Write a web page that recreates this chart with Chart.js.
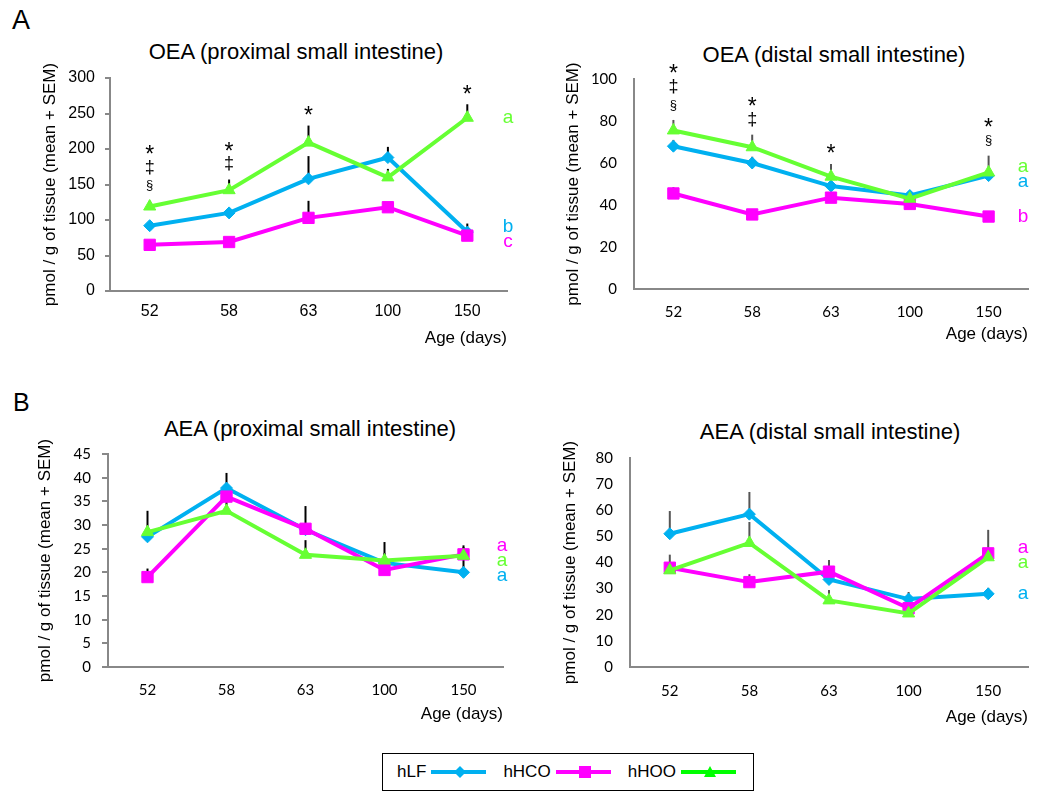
<!DOCTYPE html>
<html>
<head>
<meta charset="utf-8">
<script src="https://cdn.jsdelivr.net/npm/chart.js@4.4.0/dist/chart.umd.min.js"></script>
<style>
body{margin:0;background:#fff;}
#page{position:relative;width:1037px;height:793px;overflow:hidden;font-family:"Liberation Sans",Arial,sans-serif;color:#000;}
.panel{position:absolute;}
.ttl{position:absolute;width:400px;text-align:center;font-size:22px;line-height:24px;white-space:nowrap;}
.big{position:absolute;font-size:27px;line-height:27px;}
#legend{position:absolute;left:382px;top:753px;width:372px;height:38px;border:1.5px solid #000;display:flex;align-items:center;padding-left:14px;box-sizing:border-box;font-family:"Liberation Sans",sans-serif;font-size:17px;}
#legend span{margin-right:5px;}
#legend svg{margin-right:17px;}
</style>
</head>
<body>
<div id="page">
  <div class="big" style="left:12px;top:7px;">A</div>
  <div class="big" style="left:13px;top:389px;font-size:25px;">B</div>
  <div class="ttl" style="left:96px;top:40px;">OEA (proximal small intestine)</div>
  <div class="ttl" style="left:634px;top:43px;">OEA (distal small intestine)</div>
  <div class="ttl" style="left:110px;top:417px;">AEA (proximal small intestine)</div>
  <div class="ttl" style="left:630px;top:420px;">AEA (distal small intestine)</div>
  <div class="panel" style="left:0;top:30px;"><canvas id="oeaProx" width="520" height="320"></canvas></div>
  <div class="panel" style="left:520px;top:30px;"><canvas id="oeaDist" width="517" height="320"></canvas></div>
  <div class="panel" style="left:0;top:410px;"><canvas id="aeaProx" width="520" height="320"></canvas></div>
  <div class="panel" style="left:520px;top:410px;"><canvas id="aeaDist" width="517" height="320"></canvas></div>
  <div id="legend"></div>
</div>
<script>
const ages = ['52', '58', '63', '100', '150'];
const groups = ['hLF', 'hHCO', 'hHOO'];
const colors = ['#00B0F0', '#FF00FF', '#66FF33'];

// OEA proximal small intestine
const oeaProxLF = [92, 110, 158, 188, 83];
const oeaProxHCO = [65, 69, 103, 118, 78];
const oeaProxHOO = [119, 142, 209, 160, 244];
const oeaProxLFsem = [4, 5, 32, 15, 12];
const oeaProxHCOsem = [4, 4, 24, 5, 5];
const oeaProxHOOsem = [8, 15, 24, 12, 19];
const oeaProxSig = ['*‡§', '*‡', '*', '', '*'];
const oeaProxLetters = ['b', 'c', 'a'];

// OEA distal small intestine
const oeaDistLF = [68, 60, 49, 44.5, 54];
const oeaDistHCO = [45.5, 35.5, 43.5, 40.5, 34.5];
const oeaDistHOO = [75.5, 67.5, 53.5, 43, 55.5];
const oeaDistLFsem = [3, 3, 3, 2, 3];
const oeaDistHCOsem = [3, 2.5, 2, 2, 2];
const oeaDistHOOsem = [5, 6, 6, 2, 8];
const oeaDistSig = ['*‡§', '*‡', '*', '', '*§'];
const oeaDistLetters = ['a', 'b', 'a'];

// AEA proximal small intestine
const aeaProxLF = [27.5, 37.8, 29, 22, 20];
const aeaProxHCO = [19, 36, 29.2, 20.5, 23.8];
const aeaProxHOO = [28.5, 33, 23.7, 22.5, 23.5];
const aeaProxLFsem = [1, 3.2, 1, 1, 5.7];
const aeaProxHCOsem = [1.8, 2, 4.8, 5.9, 1.5];
const aeaProxHOOsem = [4.5, 2.5, 3.1, 1.5, 1.5];
const aeaProxSig = ['', '', '', '', ''];
const aeaProxLetters = ['a', 'a', 'a'];

// AEA distal small intestine
const aeaDistLF = [51, 58.5, 33.5, 26, 28];
const aeaDistHCO = [38, 32.5, 36.5, 22.5, 43.5];
const aeaDistHOO = [37, 47.5, 25.5, 20.5, 42];
const aeaDistLFsem = [8.7, 8.5, 2, 2.7, 2.3];
const aeaDistHCOsem = [5, 3, 4.5, 2, 9];
const aeaDistHOOsem = [2, 8, 4, 1.5, 2];
const aeaDistSig = ['', '', '', '', ''];
const aeaDistLetters = ['a', 'a', 'a'];

const pointStyles = ['rectRot', 'rect', 'triangle'];
const pointSizes = [6, 8, 7];

// error bars (mean + SEM), significance marks and group letters
const extras = {
  id: 'extras',
  beforeDatasetsDraw(chart, args, o) {
    const {ctx, scales: {x, y}} = chart;
    ctx.save();
    ctx.strokeStyle = o.barColor;
    ctx.lineWidth = 2;
    chart.data.datasets.forEach(ds => {
      ds.sem.forEach((s, i) => {
        const px = x.getPixelForValue(i);
        ctx.beginPath();
        ctx.moveTo(px, y.getPixelForValue(ds.data[i]));
        ctx.lineTo(px, y.getPixelForValue(ds.data[i] + s));
        ctx.stroke();
      });
    });
    ctx.restore();
  },
  afterDraw(chart, args, o) {
    const {ctx, scales: {x, y}, chartArea} = chart;
    const dsets = chart.data.datasets;
    ctx.save();
    ctx.fillStyle = '#000';
    ctx.textAlign = 'center';
    ctx.textBaseline = 'middle';
    o.sig.forEach((str, i) => {
      if (!str) return;
      let top = Math.min(...dsets.map(ds => y.getPixelForValue(ds.data[i] + ds.sem[i])));
      const chars = [...str].reverse();
      chars.forEach((c, k) => {
        let size = 18, shift = 0;
        if (c === '§') size = 13;
        if (c === '*') { size = 23; shift = 6; }
        ctx.font = size + 'px "Liberation Sans", Arial';
        ctx.fillText(c, x.getPixelForValue(i), top - 15 - k * 18 + shift);
      });
    });
    // letters next to last points, spread apart when they collide
    const gap = 15;
    const items = dsets.map((ds, i) => ({t: o.letters[i], c: ds.borderColor, y: y.getPixelForValue(ds.data[ds.data.length - 1])}));
    items.sort((a, b) => a.y - b.y);
    let cl = items.map(it => ({items: [it]}));
    const centre = c => c.items.reduce((s, it) => s + it.y, 0) / c.items.length;
    let merged = true;
    while (merged) {
      merged = false;
      for (let k = 0; k < cl.length - 1; k++) {
        const a = cl[k], b = cl[k + 1];
        const aBot = centre(a) + (a.items.length - 1) * gap / 2;
        const bTop = centre(b) - (b.items.length - 1) * gap / 2;
        if (bTop - aBot < gap) {
          cl.splice(k, 2, {items: a.items.concat(b.items)});
          merged = true;
          break;
        }
      }
    }
    ctx.font = '19px "Liberation Sans", Arial';
    cl.forEach(c => {
      const m = centre(c);
      c.items.forEach((it, j) => {
        ctx.fillStyle = it.c;
        ctx.fillText(it.t, chartArea.right + o.letterDx, m + (j - (c.items.length - 1) / 2) * gap);
      });
    });
    ctx.restore();
  }
};

function makePanel(id, series, sems, sig, letters, yMax, yStep, lay) {
  const datasets = series.map((d, i) => ({
    label: groups[i],
    data: d,
    sem: sems[i],
    borderColor: colors[i],
    backgroundColor: colors[i],
    borderWidth: 4,
    pointStyle: pointStyles[i],
    pointRadius: pointSizes[i],
    pointBorderWidth: 1,
    pointBorderColor: colors[i],
    pointBackgroundColor: colors[i],
    tension: 0,
    order: 2 - i
  }));
  return new Chart(document.getElementById(id), {
    type: 'line',
    data: {labels: ages, datasets: datasets},
    plugins: [extras],
    options: {
      responsive: false,
      animation: false,
      events: [],
      layout: {padding: {top: lay.top, right: lay.right, left: 0, bottom: 0}},
      plugins: {
        legend: {display: false},
        tooltip: {enabled: false},
        extras: {barColor: lay.barColor, sig: sig, letters: letters, letterDx: lay.letterDx}
      },
      scales: {
        x: {
          offset: true,
          grid: {display: false, drawTicks: false},
          border: {display: true, color: '#888', width: 2},
          ticks: {color: '#000', font: {family: lay.tickFont, size: lay.tickSize}, padding: lay.xPad, maxRotation: 0},
          title: {display: true, text: 'Age (days)', align: 'end', color: '#000',
            font: {family: 'Liberation Sans', size: 17}, padding: {top: 0, bottom: lay.agePad}},
          afterFit: s => { s.height = lay.xH; }
        },
        y: {
          min: 0, max: yMax,
          grid: {drawOnChartArea: false, drawTicks: lay.yTick > 0, tickLength: lay.yTick, color: '#888', lineWidth: 2},
          border: {display: true, color: '#888', width: 2},
          ticks: {stepSize: yStep, color: '#000', font: {family: lay.tickFont, size: lay.tickSize}, padding: lay.yPad},
          title: {display: true, text: 'pmol / g of tissue (mean + SEM)', color: '#000',
            font: {family: 'Liberation Sans', size: 17}, padding: {top: lay.yTitlePad, bottom: 0}},
          afterFit: s => { s.width = lay.yW; }
        }
      }
    }
  });
}

makePanel('oeaProx', [oeaProxLF, oeaProxHCO, oeaProxHOO], [oeaProxLFsem, oeaProxHCOsem, oeaProxHOOsem],
  oeaProxSig, oeaProxLetters, 300, 50,
  {top: 48, right: 13, yW: 110, xH: 59, tickFont: 'Liberation Sans', tickSize: 16, xPad: 11, agePad: 1,
   yTick: 5, yPad: 10, yTitlePad: 40, barColor: '#000', letterDx: 1});
makePanel('oeaDist', [oeaDistLF, oeaDistHCO, oeaDistHOO], [oeaDistLFsem, oeaDistHCOsem, oeaDistHOOsem],
  oeaDistSig, oeaDistLetters, 100, 20,
  {top: 49, right: 3, yW: 114, xH: 61, tickFont: 'Lato', tickSize: 15, xPad: 14, agePad: 5,
   yTick: 0, yPad: 17, yTitlePad: 43, barColor: '#555', letterDx: -5});
makePanel('aeaProx', [aeaProxLF, aeaProxHCO, aeaProxHOO], [aeaProxLFsem, aeaProxHCOsem, aeaProxHOOsem],
  aeaProxSig, aeaProxLetters, 45, 5,
  {top: 44, right: 17, yW: 108, xH: 63, tickFont: 'Lato', tickSize: 15, xPad: 14, agePad: 5,
   yTick: 6, yPad: 11, yTitlePad: 35, barColor: '#000', letterDx: -1});
makePanel('aeaDist', [aeaDistLF, aeaDistHCO, aeaDistHOO], [aeaDistLFsem, aeaDistHCOsem, aeaDistHOOsem],
  aeaDistSig, aeaDistLetters, 80, 10,
  {top: 48, right: 4, yW: 110, xH: 63, tickFont: 'Lato', tickSize: 15, xPad: 15, agePad: 2,
   yTick: 0, yPad: 17, yTitlePad: 40, barColor: '#555', letterDx: -5});

// shared legend
const legendColors = ['#00B0F0', '#FF00FF', '#00FF00'];
const marks = [
  '<polygon points="29,1 35,7 29,13 23,7"/>',
  '<rect x="23" y="1" width="12" height="12"/>',
  '<polygon points="29,1 35,12 23,12"/>'
];
const leg = document.getElementById('legend');
groups.forEach((g, i) => {
  const sp = document.createElement('span');
  sp.textContent = g;
  leg.appendChild(sp);
  leg.insertAdjacentHTML('beforeend',
    '<svg width="58" height="14" fill="' + legendColors[i] + '"><line x1="0" y1="7" x2="58" y2="7" stroke="' +
    legendColors[i] + '" stroke-width="4"/>' + marks[i] + '</svg>');
});
</script>
</body>
</html>
